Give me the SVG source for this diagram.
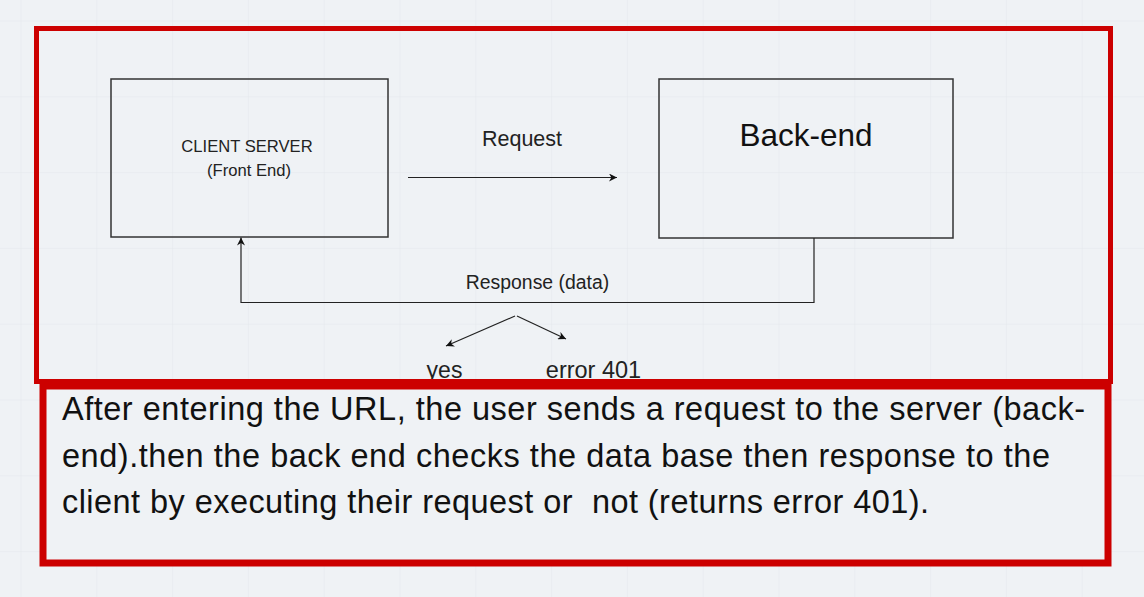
<svg xmlns="http://www.w3.org/2000/svg" width="1144" height="597" viewBox="0 0 1144 597">
<defs>
<pattern id="grid" x="20.5" y="20.5" width="75.8" height="75.8" patternUnits="userSpaceOnUse">
<path d="M0 0H75.8M0 0V75.8" fill="none" stroke="#e3e7ec" stroke-width="1"/>
</pattern>
<marker id="arr" viewBox="0 0 10 10" refX="10" refY="5" markerWidth="8" markerHeight="8" markerUnits="userSpaceOnUse" orient="auto">
<path d="M0 0L10 5L0 10L3 5Z" fill="#111"/>
</marker>
</defs>
<style>
text{font-family:"Liberation Sans",Arial,sans-serif;fill:#222}
.box{fill:none;stroke:#333;stroke-width:1.5}
.con{fill:none;stroke:#222;stroke-width:1.2}
.red{fill:none;stroke:#cc0000}
</style>
<rect width="1144" height="597" fill="#eff2f5"/>
<rect width="1144" height="597" fill="url(#grid)"/>
<g id="client-server">
<rect class="box" x="111" y="79" width="277" height="158"/>
<text x="247" y="152" font-size="16.6" text-anchor="middle">CLIENT SERVER</text>
<text x="249" y="176" font-size="16.6" text-anchor="middle">(Front End)</text>
</g>
<g id="back-end">
<rect class="box" x="659" y="79" width="294" height="159"/>
<text x="806" y="146" font-size="31.5" text-anchor="middle" style="fill:#111">Back-end</text>
</g>
<g id="connectors">
<line class="con" x1="408" y1="177.5" x2="617" y2="177.5" marker-end="url(#arr)"/>
<polyline class="con" points="814,238 814,302.5 241,302.5 241,237.5" marker-end="url(#arr)"/>
<line class="con" x1="515" y1="316" x2="446" y2="346" marker-end="url(#arr)"/>
<line class="con" x1="517" y1="316" x2="566" y2="339" marker-end="url(#arr)"/>
</g>
<g id="labels">
<text x="522" y="145.5" font-size="21.5" text-anchor="middle">Request</text>
<text x="537.5" y="289" font-size="19.4" text-anchor="middle">Response (data)</text>
<text x="444.5" y="378" font-size="23" text-anchor="middle">yes</text>
<text x="593.5" y="378" font-size="23.5" text-anchor="middle">error 401</text>
</g>
<g id="top-frame">
<rect class="red" x="36.5" y="28.5" width="1074" height="353" stroke-width="5"/>
</g>
<g id="description">
<rect class="red" x="43" y="386" width="1065" height="177" stroke-width="7" style="fill:#eff2f5"/>
<text font-size="32.5" style="fill:#111;white-space:pre" xml:space="preserve"><tspan x="62" y="420" textLength="1023" lengthAdjust="spacing">After entering the URL, the user sends a request to the server (back-</tspan><tspan x="62" y="467" textLength="988" lengthAdjust="spacing">end).then the back end checks the data base then response to the</tspan><tspan x="62" y="513" textLength="867" lengthAdjust="spacing">client by executing their request or  not (returns error 401).</tspan></text>
</g>
</svg>
